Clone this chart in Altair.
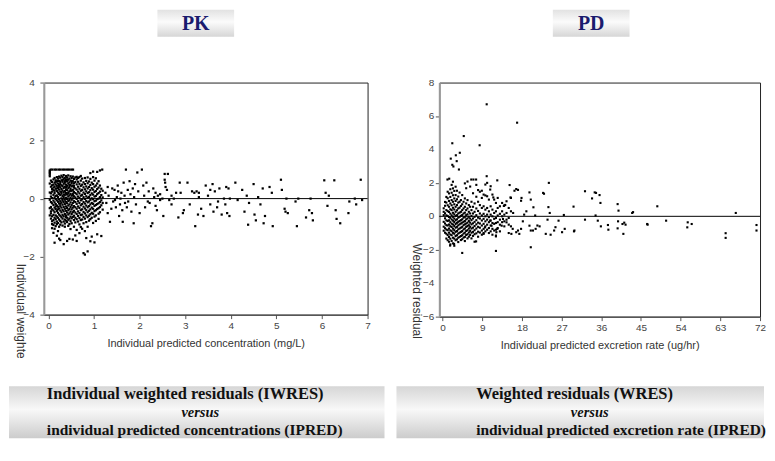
import altair as alt
import pandas as pd

# ---------------- PK panel: IWRES vs IPRED ----------------
pk_dense = [
    (0.03, [0.77, 0.83, 0.88, 0.93, 0.97, 0.52, 0.21, -0.04, -0.33, -0.58]),
    (0.055, [0.62, 0.41, 0.18, -0.12, -0.29, -0.51, -0.69, 0.07, -0.44]),
    (0.08, [0.57, 0.33, 0.24, 0.02, -0.16, -0.37, -0.61, -0.78, 0.46, -0.88, -1.02]),
    (0.11, [0.66, 0.48, 0.29, 0.13, -0.07, -0.22, -0.41, -0.56, -0.74, -0.91, 0.38, -1.18]),
    (0.135, [0.71, 0.55, 0.41, 0.19, 0.04, -0.13, -0.31, -0.47, -0.66, -0.83, -1.04, -1.52, 0.27]),
    (0.16, [0.63, 0.49, 0.34, 0.09, -0.02, -0.19, -0.36, -0.58, -0.71, -0.95, 0.58, -0.27]),
    (0.185, [0.74, 0.59, 0.44, 0.26, 0.11, -0.06, -0.24, -0.43, -0.62, -0.79, -1.28, 0.35, -0.88]),
    (0.21, [0.69, 0.52, 0.37, 0.21, 0.06, -0.11, -0.28, -0.49, -0.66, -0.84, -1.12, 0.61, -0.37]),
    (0.235, [0.76, 0.61, 0.47, 0.31, 0.16, -0.03, -0.17, -0.34, -0.55, -0.72, -0.97, -1.38, 0.42]),
    (0.26, [0.72, 0.57, 0.39, 0.24, 0.12, -0.09, -0.26, -0.41, -0.59, -0.77, -0.90, -1.43, 0.50, -0.18]),
    (0.285, [0.79, 0.63, 0.46, 0.33, 0.17, 0.01, -0.14, -0.31, -0.47, -0.64, -0.82, 0.23, -1.22]),
    (0.31, [0.74, 0.58, 0.43, 0.28, 0.09, -0.07, -0.21, -0.39, -0.56, -0.69, -0.93, 0.64, -0.02]),
    (0.335, [0.81, 0.67, 0.51, 0.37, 0.22, 0.05, -0.12, -0.29, -0.44, -0.61, -0.79, -1.57, 0.14]),
    (0.36, [0.71, 0.55, 0.41, 0.26, 0.13, -0.04, -0.19, -0.35, -0.53, -0.72, -0.86, 0.60, -0.97]),
    (0.385, [0.78, 0.64, 0.48, 0.32, 0.19, 0.03, -0.11, -0.27, -0.42, -0.58, -0.76, 0.39, -0.63]),
    (0.41, [0.73, 0.59, 0.44, 0.29, 0.14, -0.01, -0.16, -0.32, -0.48, -0.66, -0.81, -1.46, 0.66]),
    (0.435, [0.80, 0.65, 0.52, 0.36, 0.21, 0.07, -0.08, -0.24, -0.40, -0.55, -0.73, -0.94, 0.18]),
    (0.46, [0.69, 0.56, 0.40, 0.25, 0.11, -0.05, -0.20, -0.36, -0.51, -0.69, -0.88, -1.39, 0.47]),
    (0.485, [0.77, 0.62, 0.47, 0.33, 0.16, 0.02, -0.13, -0.29, -0.45, -0.62, -0.78, 0.27, -1.05]),
    (0.51, [0.71, 0.54, 0.42, 0.27, 0.10, -0.04, -0.22, -0.37, -0.53, -0.68, -0.85, 0.60]),
    (0.535, [0.76, 0.60, 0.45, 0.30, 0.17, 0.01, -0.15, -0.31, -0.47, -0.63, -1.41, 0.12]),
    (0.56, [0.68, 0.53, 0.38, 0.23, 0.08, -0.09, -0.26, -0.42, -0.59, -0.74, -0.97, 0.44]),
    (0.59, [0.73, 0.57, 0.35, 0.19, 0.04, -0.12, -0.30, -0.48, -0.66, -0.82, -1.27]),
    (0.62, [0.66, 0.49, 0.31, 0.15, -0.01, -0.18, -0.35, -0.53, -0.71, -1.08, -1.46, 0.75]),
    (0.65, [0.58, 0.41, 0.24, 0.07, -0.09, -0.27, -0.44, -0.60, -0.79, 0.71]),
    (0.68, [0.74, 0.51, 0.34, 0.18, 0.02, -0.15, -0.32, -0.50, -0.67, -0.89, -1.19]),
    (0.71, [0.62, 0.44, 0.27, 0.10, -0.06, -0.23, -0.40, -0.57, -0.74, -0.98, 0.78]),
    (0.74, [0.69, 0.48, 0.30, 0.13, -0.03, -0.19, -0.37, -0.55, -0.72, -1.04]),
    (0.77, [0.56, 0.39, 0.21, 0.05, -0.12, -0.28, -0.46, -0.63, -0.85, -1.88]),
    (0.80, [0.71, 0.50, 0.32, 0.16, -0.01, -0.17, -0.34, -0.51, -0.69, -1.12, -1.93]),
    (0.83, [0.61, 0.42, 0.25, 0.08, -0.08, -0.24, -0.40, -0.58, -0.81, -1.36]),
    (0.86, [0.73, 0.53, 0.35, 0.19, 0.03, -0.13, -0.30, -0.47, -0.64, -0.97, -1.82]),
    (0.89, [0.59, 0.40, 0.22, 0.06, -0.10, -0.26, -0.42, -0.59, -0.76]),
    (0.92, [0.68, 0.47, 0.29, 0.12, -0.04, -0.20, -0.37, -0.54, -0.71, -1.47, 0.88]),
    (0.95, [0.55, 0.36, 0.18, 0.01, -0.15, -0.31, -0.49, -0.66, -1.31]),
    (0.98, [0.74, 0.50, 0.31, 0.14, -0.02, -0.18, -0.35, -0.52, -0.84, 0.93]),
    (1.01, [0.62, 0.41, 0.23, 0.07, -0.09, -0.25, -0.43, -0.62, -1.51]),
    (1.04, [0.70, 0.45, 0.26, 0.09, -0.07, -0.22, -0.40, -0.58, -0.77]),
    (1.07, [0.52, 0.33, 0.15, -0.02, -0.19, -0.36, -1.23, 0.92]),
    (1.10, [0.60, 0.38, 0.19, 0.00, -0.16, -0.33, -0.52, -0.70]),
    (1.13, [0.45, 0.24, 0.05, -0.12, -0.29, -0.47, 0.97]),
    (1.16, [0.34, 0.12, -0.06, -0.23, -1.29]),
    (1.19, [0.27, 0.04, -0.15, -0.38]),
]
pk_ceiling_x = [0.05, 0.09, 0.14, 0.18, 0.23, 0.27, 0.32, 0.36, 0.41, 0.45, 0.50, 0.54]
pk_ceiling_y = 1.0
pk_sparse = [
    (1.18, 1.0), (1.25, 0.2), (1.3, -0.5), (1.32, 0.1), (1.35, -0.8), (1.4, 0.35), (1.42, -0.1),
    (1.45, 0.3), (1.48, -0.3), (1.5, 0.05), (1.52, 0.45), (1.55, -0.6), (1.57, -0.2), (1.6, 0.2),
    (1.62, -0.4), (1.63, -0.8), (1.65, 0.55), (1.67, 0.1), (1.7, 1.0), (1.72, -0.3), (1.74, 0.3),
    (1.75, -0.1), (1.78, 0.6), (1.8, 0.15), (1.82, -0.45), (1.85, 0.35), (1.87, -0.85), (1.88, 0.05),
    (1.9, 0.5), (1.92, -0.2), (1.95, 0.9), (1.97, 0.25), (2.0, -0.5), (1.58, 0.0), (1.68, -0.15),
    (1.53, 0.25), (1.46, -0.05), (1.38, -0.35), (1.3, 0.4), (1.27, -0.15),
    (2.05, 1.0), (2.08, 0.45), (2.1, 0.1), (2.12, -0.3), (2.15, 0.55), (2.2, 0.25), (2.22, -0.15),
    (2.25, -0.95), (2.28, -0.85), (2.3, 0.35), (2.32, 0.05), (2.35, 0.2), (2.38, -0.4), (2.4, 0.1),
    (2.45, -0.05), (2.5, 0.0), (2.52, -0.6), (2.55, 0.85), (2.55, 0.65), (2.56, 0.55), (2.57, 0.4),
    (2.6, 0.3), (2.62, 0.85), (2.65, -0.05), (2.7, 0.1), (2.75, 0.0), (2.8, 0.2), (2.85, -0.65),
    (2.88, 0.55), (2.9, 0.2), (2.95, -0.5), (2.97, -0.4), (2.7, -0.2), (2.45, 0.15), (2.35, -0.25),
    (2.18, -0.1),
    (3.05, 0.55), (3.1, -0.2), (3.15, 0.25), (3.2, 0.2), (3.22, -0.95), (3.25, 0.25), (3.28, -0.55),
    (3.3, 0.05), (3.35, -0.35), (3.4, -0.6), (3.45, 0.45), (3.5, 0.1), (3.55, 0.3), (3.6, 0.5),
    (3.62, -0.45), (3.65, 0.25), (3.7, -0.3), (3.72, -0.1), (3.75, 0.35), (3.8, -0.55), (3.85, 0.0),
    (3.88, -0.2), (3.9, 0.4), (3.92, -0.5), (3.95, 0.35), (3.97, -0.6), (3.98, 0.0), (3.3, 0.2),
    (3.55, -0.2),
    (4.1, 0.55), (4.15, -0.05), (4.3, -0.45), (4.35, 0.1), (4.38, -0.9), (4.5, 0.5), (4.52, -0.55),
    (4.55, -0.75), (4.6, 0.05), (4.65, -0.2), (4.7, 0.35), (4.72, -0.85), (4.75, -0.6), (4.85, 0.4),
    (4.9, 0.2), (4.92, -0.95), (4.4, -0.15), (4.25, 0.3),
    (5.1, 0.65), (5.12, 0.3), (5.18, -0.35), (5.2, -0.45), (5.22, 0.0), (5.25, -0.5), (5.42, -0.1),
    (5.45, -0.95), (5.48, 0.0), (5.65, -0.65), (5.72, -0.4), (5.75, 0.0), (5.78, -0.5), (5.8, -0.75),
    (6.05, 0.63), (6.08, 0.2), (6.12, -0.25), (6.15, 0.1), (6.27, 0.63), (6.3, -0.4), (6.32, -0.7),
    (6.4, -0.85), (6.58, -0.5), (6.6, -0.1), (6.72, 0.0), (6.75, -0.2), (6.85, 0.65), (6.88, -0.05),
]
pk_x_ticks = [0, 1, 2, 3, 4, 5, 6, 7]
pk_y_ticks = [-4, -2, 0, 2, 4]

# ---------------- PD panel: WRES vs IPRED ----------------
pd_dense = [
    (0.25, [0.48, 0.07, -0.33, -0.62, -0.86, 0.27]),
    (0.55, [0.63, 0.18, -0.12, -0.43, -0.71, -0.98, 0.86]),
    (0.85, [0.82, 0.37, 0.06, -0.24, -0.53, -0.79, -1.04, -1.33, 1.16]),
    (1.15, [1.08, 0.66, 0.31, 0.02, -0.28, -0.55, -0.83, -1.12, -1.43, 1.47]),
    (1.45, [1.37, 0.92, 0.57, 0.26, -0.04, -0.24, -0.49, -0.73, -0.98, -1.24, -1.52]),
    (1.75, [1.62, 1.16, 0.77, 0.42, 0.16, -0.09, -0.35, -0.59, -0.84, -1.09, -1.34, -1.68]),
    (2.05, [1.88, 1.41, 0.97, 0.66, 0.37, 0.06, -0.19, -0.44, -0.64, -0.89, -1.13, -1.47]),
    (2.35, [2.07, 1.67, 1.26, 0.87, 0.51, 0.21, -0.03, -0.26, -0.49, -0.74, -0.99, -1.28, -1.62]),
    (2.65, [1.52, 1.07, 0.72, 0.41, 0.12, -0.13, -0.34, -0.58, -0.83, -1.04, -1.33, -1.76]),
    (2.95, [1.77, 1.27, 0.92, 0.57, 0.27, 0.02, -0.23, -0.46, -0.68, -0.93, -1.18, -1.43]),
    (3.25, [1.53, 1.02, 0.67, 0.36, 0.07, -0.18, -0.39, -0.63, -0.88, -1.13, -1.38]),
    (3.55, [1.18, 0.82, 0.47, 0.17, -0.08, -0.33, -0.54, -0.78, -1.03, -1.28, -1.54]),
    (3.85, [1.42, 0.87, 0.52, 0.22, -0.03, -0.28, -0.48, -0.73, -0.98, -1.23]),
    (4.15, [0.97, 0.62, 0.27, 0.03, -0.23, -0.43, -0.68, -0.93, -1.18, -1.42]),
    (4.45, [1.27, 0.72, 0.37, 0.08, -0.18, -0.38, -0.63, -0.88, -1.13, -1.37]),
    (4.75, [0.87, 0.47, 0.17, -0.08, -0.33, -0.53, -0.78, -1.03, -1.27]),
    (5.05, [1.97, 1.07, 0.57, 0.22, -0.03, -0.28, -0.48, -0.73, -0.98, -1.23, -1.48]),
    (5.35, [1.68, 0.77, 0.37, 0.07, -0.18, -0.43, -0.63, -0.88, -1.12]),
    (5.65, [2.08, 0.97, 0.47, 0.12, -0.13, -0.38, -0.58, -0.83, -1.07, -1.32]),
    (5.95, [0.67, 0.27, -0.03, -0.28, -0.53, -0.73, -0.97, -1.22]),
    (6.25, [1.78, 0.57, 0.17, -0.13, -0.38, -0.63, -0.87, -1.12]),
    (6.55, [0.87, 0.37, 0.02, -0.23, -0.48, -0.73, -0.98, -1.32]),
    (6.9, [1.38, 0.57, 0.17, -0.13, -0.42, -0.68, -0.93, -1.17]),
    (7.25, [0.77, 0.27, -0.03, -0.33, -0.58, -0.83, -1.07, -1.52]),
    (7.65, [1.88, 1.17, 0.47, 0.07, -0.23, -0.48, -0.73, -1.02]),
    (8.05, [1.57, 0.87, 0.32, -0.08, -0.38, -0.63, -0.92, -1.22]),
    (8.45, [1.47, 0.67, 0.17, -0.13, -0.43, -0.68, -0.97]),
    (8.9, [1.1, 0.5, 0.05, -0.25, -0.55, -0.85, -1.1]),
    (9.3, [1.3, 0.6, 0.15, -0.15, -0.45, -0.75, -1.0]),
    (9.7, [1.9, 1.25, 0.4, 0.0, -0.3, -0.6, -0.9]),
    (10.1, [2.0, 1.2, 0.5, 0.1, -0.2, -0.5, -0.8]),
    (10.5, [1.0, 0.3, -0.05, -0.35, -0.7, -1.0]),
    (10.9, [1.8, 0.6, 0.1, -0.25, -0.55, -0.9]),
    (11.3, [1.3, 0.4, 0.0, -0.4, -0.75, -1.1]),
    (11.7, [1.0, 0.2, -0.15, -0.45, -0.85]),
    (12.1, [0.8, 0.3, -0.1, -0.4, -0.8, -1.2]),
    (12.5, [1.1, 0.5, 0.05, -0.35, -0.7]),
    (13.0, [0.6, 0.15, -0.2, -0.5, -0.9]),
    (13.5, [0.8, 0.3, 0.0, -0.35]),
    (14.0, [0.65, 0.1, -0.3, -0.6]),
    (14.5, [0.9, 0.2, -0.2]),
    (15.0, [0.5, -0.1, -0.5, -1.0]),
    (15.5, [1.1, 0.3, -0.6]),
]
pd_sparse = [
    (10.0, 6.7), (16.9, 5.6), (4.8, 4.8), (2.2, 4.37), (8.4, 4.25), (3.9, 3.8), (3.0, 3.65),
    (1.85, 3.45), (3.2, 3.3), (2.2, 3.08), (2.45, 2.98), (3.7, 2.8), (1.5, 2.25), (1.1, 2.2),
    (6.5, 2.2), (7.0, 2.2), (7.6, 2.2), (10.0, 2.4), (12.4, 2.15), (24.1, 2.0), (32.3, 1.5),
    (33.9, 1.07), (34.5, 1.43), (34.8, 1.4), (35.6, 1.27), (35.8, 0.8), (39.7, 0.73), (39.9, 0.34),
    (43.0, 0.2), (43.2, 0.25), (48.7, 0.6), (66.5, 0.2), (29.7, 0.58), (22.8, 1.4), (23.0, 1.35),
    (19.7, 1.43), (20.0, 1.0), (16.7, 1.63), (16.3, 1.53), (17.1, 1.58), (15.2, 1.87), (15.4, 1.13),
    (17.8, 0.93), (17.9, 1.1), (20.6, 0.54), (14.2, 0.68), (13.9, 0.62), (11.5, 1.13), (10.8, 1.6),
    (8.9, 1.53),
    (4.45, -2.19), (12.1, -2.07), (20.0, -1.85), (1.7, -1.75), (2.6, -1.65), (7.6, -1.5),
    (23.4, -1.05), (24.5, -1.1), (27.1, -0.95), (29.8, -0.9), (29.9, -0.85), (35.2, -0.26),
    (37.5, -0.52), (37.6, -0.8), (39.7, -0.72), (39.8, -0.3), (40.8, -0.46), (41.0, -1.05),
    (41.2, -0.38), (46.4, -0.46), (46.5, -0.5), (50.7, -0.26), (55.5, -0.66), (55.6, -0.36),
    (56.5, -0.46), (64.2, -1.01), (64.2, -1.29), (71.2, -0.52), (71.2, -0.85), (32.3, -0.2),
    (27.7, -0.75), (25.6, -0.65), (25.3, -0.85), (24.3, 0.2), (24.0, 0.55), (27.5, 0.08),
    (26.3, -0.26), (21.1, -0.75), (21.5, -0.55), (19.7, -0.56), (20.0, -0.85), (20.5, -0.85),
    (17.8, -0.75), (16.7, -0.95), (17.1, -0.85), (17.4, -1.05), (15.9, -0.75), (15.6, -1.05),
    (14.5, -0.36), (13.7, -0.16), (13.4, -0.56), (12.2, -0.95), (12.4, -0.75), (12.1, -1.15),
    (11.1, -0.56), (10.8, -0.26), (9.6, -0.66), (9.3, -1.05), (34.7, 0.05), (18.5, 0.1),
    (21.0, 0.05), (22.0, -0.6), (16.0, 0.2), (18.2, -0.3), (19.0, 0.3), (23.8, -0.2),
    (35.9, -0.6), (41.5, -0.5),
]
pd_x_ticks = [0, 9, 18, 27, 36, 45, 54, 63, 72]
pd_y_ticks = [-6, -4, -2, 0, 2, 4, 6, 8]

# ---------------- texts ----------------
pk_header = ["PK"]
pd_header = ["PD"]
pk_caption = ["Individual weighted residuals (IWRES)", "versus",
              "individual predicted concentrations (IPRED)"]
pd_caption = ["Weighted residuals (WRES)", "versus",
              "individual predicted excretion rate (IPRED)"]
pk_xtitle = "Individual predicted concentration (mg/L)"
pk_ytitle = "Individual weighte"
pd_xtitle = "Individual predicted excretion rate (ug/hr)"
pd_ytitle = "Weighted residual"


def build_points(dense, sparse, extra_x=None, extra_y=None):
    xs, ys = [], []
    for x, yl in dense:
        for y in yl:
            xs.append(x)
            ys.append(y)
    for x, y in sparse:
        xs.append(x)
        ys.append(y)
    if extra_x:
        for x in extra_x:
            xs.append(x)
            ys.append(extra_y)
    return pd.DataFrame({"x": xs, "y": ys})


pk_df = build_points(pk_dense, pk_sparse, pk_ceiling_x, pk_ceiling_y)
pd_df = build_points(pd_dense, pd_sparse)

SANS = "Liberation Sans"
SERIF = "Liberation Serif"

header_grad = alt.LinearGradient(
    gradient="linear", x1=0, y1=0, x2=0, y2=1,
    stops=[alt.GradientStop(color="#e2e2e2", offset=0),
           alt.GradientStop(color="#fbfbfb", offset=0.45),
           alt.GradientStop(color="#d6d6d6", offset=1)])
caption_grad = alt.LinearGradient(
    gradient="linear", x1=0, y1=0, x2=0, y2=1,
    stops=[alt.GradientStop(color="#d6d6d6", offset=0),
           alt.GradientStop(color="#f8f8f8", offset=0.45),
           alt.GradientStop(color="#cccccc", offset=1)])


def panel(df, xdom, xticks, ydom, yticks, xtitle, ytitle, w, h, size,
          header, caption, hdr_x, cap_x0, cap_x1, cap_left, versus_x,
          ytitle_x, ytitle_y, ylab_gap):
    yscale = alt.Scale(domain=ydom, nice=False, zero=False)
    yaxis = alt.Axis(values=yticks, title=ytitle, grid=False, tickSize=4,
                     tickColor="#555", labels=False, titleFont=SANS,
                     titleFontSize=12, titleFontWeight="normal",
                     titleColor="#333", titleAngle=90, titleX=ytitle_x,
                     titleY=ytitle_y, titleAlign="center",
                     titleBaseline="middle", domainColor="#999",
                     domainWidth=2)
    pts = alt.Chart(df).mark_square(size=size, color="black", opacity=1).encode(
        x=alt.X("x:Q", scale=alt.Scale(domain=xdom, nice=False, zero=False),
                axis=alt.Axis(values=xticks, title=xtitle, grid=False, tickSize=4,
                              tickColor="#555", labelPadding=2, labelFont=SANS,
                              labelFontSize=10, labelColor="#444", titleFont=SANS,
                              titleFontSize=11, titleFontWeight="normal",
                              titleColor="#333", titlePadding=7,
                              domainColor="#444", labelFlush=False,
                              labelOverlap=False)),
        y=alt.Y("y:Q", scale=yscale, axis=yaxis),
    )
    # y tick labels, placed through the y scale
    ylab = alt.Chart(pd.DataFrame({"y": yticks})).mark_text(
        font=SANS, fontSize=10, color="#444", align="right", baseline="middle").encode(
        x=alt.value(-ylab_gap), y=alt.Y("y:Q", scale=yscale, axis=yaxis), text="y:Q")
    zero = alt.Chart(pd.DataFrame({"v": [0]})).mark_rule(
        color="black", strokeWidth=1).encode(y=alt.datum(0))

    hdr_df = pd.DataFrame({"label": header})
    hdr_box = alt.Chart(hdr_df).mark_rect(fill=header_grad).encode(
        x=alt.value(hdr_x), x2=alt.value(hdr_x + 77),
        y=alt.value(-73), y2=alt.value(-46))
    hdr_txt = alt.Chart(hdr_df).mark_text(
        font=SERIF, fontSize=20, fontWeight="bold", color="#1b1b6e",
        align="center", baseline="middle").encode(
        x=alt.value(hdr_x + 38.5), y=alt.value(-59), text="label:N")

    cap_df = pd.DataFrame({"line": caption, "row": [0, 1, 2]})
    cap_box = alt.Chart(cap_df.head(1)).mark_rect(fill=caption_grad).encode(
        x=alt.value(cap_x0), x2=alt.value(cap_x1),
        y=alt.value(305), y2=alt.value(357))
    line1 = alt.Chart(cap_df[cap_df.row == 0]).mark_text(
        font=SERIF, fontSize=16.5, fontWeight="bold", color="#111",
        align="left", baseline="middle").encode(
        x=alt.value(cap_left), y=alt.value(313), text="line:N")
    line2 = alt.Chart(cap_df[cap_df.row == 1]).mark_text(
        font=SERIF, fontSize=14.5, fontWeight="bold", fontStyle="italic", color="#111",
        align="center", baseline="middle").encode(
        x=alt.value(versus_x), y=alt.value(332), text="line:N")
    line3 = alt.Chart(cap_df[cap_df.row == 2]).mark_text(
        font=SERIF, fontSize=15.5, fontWeight="bold", color="#111",
        align="left", baseline="middle").encode(
        x=alt.value(cap_left), y=alt.value(349), text="line:N")

    return alt.layer(hdr_box, hdr_txt, cap_box, line1, line2, line3, zero, ylab, pts).properties(
        width=w, height=h)


pk_chart = panel(pk_df, [-0.1, 7], pk_x_ticks, [-4, 4], pk_y_ticks, pk_xtitle, pk_ytitle,
                 325, 233, 5, pk_header, pk_caption,
                 hdr_x=114, cap_x0=-35, cap_x1=342, cap_left=3, versus_x=157,
                 ytitle_x=-23, ytitle_y=229, ylab_gap=9)
pd_chart = panel(pd_df, [-0.75, 72], pd_x_ticks, [-6, 8], pd_y_ticks, pd_xtitle, pd_ytitle,
                 322, 235, 4.5, pd_header, pd_caption,
                 hdr_x=114, cap_x0=-43, cap_x1=326, cap_left=37, versus_x=151,
                 ytitle_x=-23, ytitle_y=209, ylab_gap=5)

chart = alt.hconcat(pk_chart, pd_chart, spacing=10).properties(
    padding={"left": 0, "top": 0, "right": 0, "bottom": 0},
    background="white",
).configure_view(stroke="#222", strokeWidth=1)

chart.save("out.html", embed_options={"renderer": "svg", "actions": False})
